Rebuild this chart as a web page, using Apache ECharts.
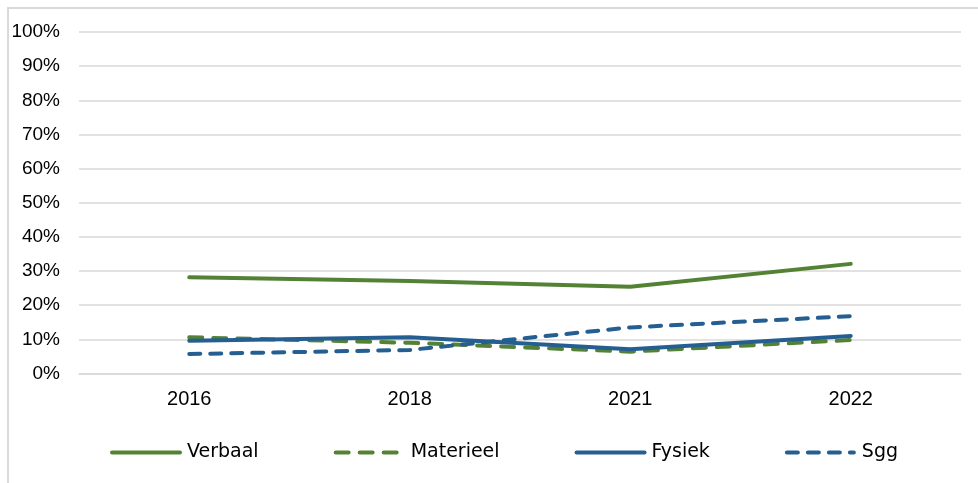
<!DOCTYPE html>
<html>
<head>
<meta charset="utf-8">
<script src="https://cdn.jsdelivr.net/npm/echarts@6/dist/echarts.min.js"></script>
<style>
html,body{margin:0;padding:0;background:#fff;}
#wrap{position:relative;width:978px;height:483px;overflow:hidden;}
#frame{position:absolute;left:7px;top:7px;width:1000px;height:600px;border-left:2px solid #d9d9d9;border-top:2px solid #d9d9d9;box-sizing:border-box;}
#chart{position:absolute;left:0;top:0;width:978px;height:483px;}
</style>
</head>
<body>
<div id="wrap"><div id="frame"></div><div id="chart"></div></div>
<script>
const categories = ['2016', '2018', '2021', '2022'];
const verbaal = [28.2, 27.1, 25.4, 32.1];
const materieel = [10.6, 9.0, 6.4, 9.8];
const fysiek = [9.6, 10.6, 7.1, 11.0];
const sgg = [5.7, 6.9, 13.5, 16.8];
const yTicks = [0, 10, 20, 30, 40, 50, 60, 70, 80, 90, 100];

const green = '#548235';
const blue = '#255E91';
const axisFont = 'Liberation Sans';
const legendFont = 'DejaVu Sans';

// rounded segment from x0 to x1, height 4
function seg(x0, x1) {
  return 'M' + (x0 + 2) + ',0 L' + (x1 - 2) + ',0 A2,2 0 0 1 ' + (x1 - 2) + ',4 L' + (x0 + 2) + ',4 A2,2 0 0 1 ' + (x0 + 2) + ',0 Z ';
}
const iconSolid = 'path://' + seg(0, 72);
const iconDash = 'path://' + seg(0, 17) + seg(24, 41) + seg(48, 65) + 'M72,2 M0,2';
const iconSysDash = 'path://' + seg(0, 15) + seg(21, 36) + seg(42, 57) + seg(63, 71) + 'M72,2 M0,2';

function mk(name, data, color, dash) {
  return {
    name: name, type: 'line', data: data, symbol: 'none', showSymbol: false,
    lineStyle: { color: color, width: 4, type: dash || 'solid', cap: 'round', join: 'round' },
    itemStyle: { color: color },
    emphasis: { disabled: true },
    animation: false
  };
}

const chart = echarts.init(document.getElementById('chart'), null, { renderer: 'canvas' });
chart.setOption({
  backgroundColor: 'transparent',
  animation: false,
  grid: { left: 79, right: 17, top: 32, bottom: 109.5, containLabel: false },
  xAxis: {
    type: 'category', data: categories, boundaryGap: true,
    axisLine: { show: true, lineStyle: { color: '#d9d9d9', width: 1.5 } },
    axisTick: { show: false },
    axisLabel: { color: '#000', fontFamily: axisFont, fontSize: 20, margin: 16 }
  },
  yAxis: {
    type: 'value', min: yTicks[0], max: yTicks[yTicks.length - 1], interval: 10,
    axisLine: { show: false }, axisTick: { show: false },
    splitLine: { lineStyle: { color: '#d9d9d9', width: 1.5 } },
    axisLabel: { color: '#000', fontFamily: axisFont, fontSize: 19, margin: 19, formatter: v => v + '%' }
  },
  legend: {
    left: 110, top: 443, padding: 0, itemWidth: 72, itemHeight: 4, itemGap: 75,
    textStyle: { color: '#000', fontFamily: legendFont, fontSize: 19 },
    data: [
      { name: 'Verbaal', icon: iconSolid, itemStyle: { color: green } },
      { name: 'Materieel', icon: iconDash, itemStyle: { color: green } },
      { name: 'Fysiek', icon: iconSolid, itemStyle: { color: blue } },
      { name: 'Sgg', icon: iconSysDash, itemStyle: { color: blue } }
    ]
  },
  series: [
    mk('Verbaal', verbaal, green),
    mk('Materieel', materieel, green, [13, 11]),
    mk('Fysiek', fysiek, blue),
    mk('Sgg', sgg, blue, [11, 10])
  ]
});
</script>
</body>
</html>
